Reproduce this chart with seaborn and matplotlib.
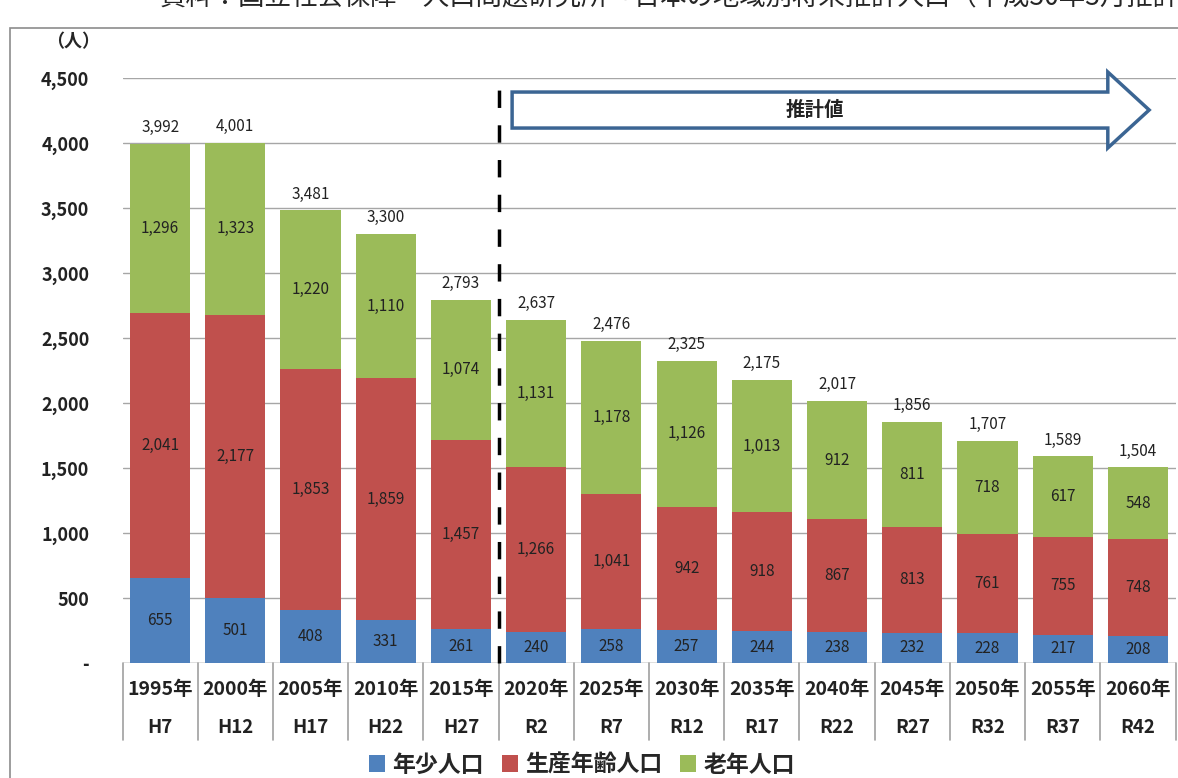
import numpy as np
import pandas as pd
import matplotlib.pyplot as plt
import seaborn as sns
from matplotlib.patches import Polygon, Rectangle

# --- data ---
years = ["1995年", "2000年", "2005年", "2010年", "2015年", "2020年", "2025年",
         "2030年", "2035年", "2040年", "2045年", "2050年", "2055年", "2060年"]
eras = ["H7", "H12", "H17", "H22", "H27", "R2", "R7",
        "R12", "R17", "R22", "R27", "R32", "R37", "R42"]
young = [655, 501, 408, 331, 261, 240, 258, 257, 244, 238, 232, 228, 217, 208]
working = [2041, 2177, 1853, 1859, 1457, 1266, 1041, 942, 918, 867, 813, 761, 755, 748]
elderly = [1296, 1323, 1220, 1110, 1074, 1131, 1178, 1126, 1013, 912, 811, 718, 617, 548]
totals = [3992, 4001, 3481, 3300, 2793, 2637, 2476, 2325, 2175, 2017, 1856, 1707, 1589, 1504]
series_names = ["年少人口", "生産年齢人口", "老年人口"]
colors = ["#4F81BD", "#C0504D", "#9BBB59"]

sns.set_theme(style="white")
plt.rcParams['font.family'] = ['Noto Sans CJK JP', 'DejaVu Sans']

df = pd.DataFrame({"year": years, "young": young, "working": working, "elderly": elderly})
df["lvl1"] = df["young"]
df["lvl2"] = df["young"] + df["working"]
df["lvl3"] = df["lvl2"] + df["elderly"]

fig = plt.figure(figsize=(11.78, 7.78), dpi=100)
ax = fig.add_axes([122.5 / 1178, 1 - 663 / 778, 1053 / 1178, 585 / 778])

# stacked bars: draw cumulative levels back to front
for col, c, name in zip(["lvl3", "lvl2", "lvl1"], colors[::-1], series_names[::-1]):
    sns.barplot(data=df, x="year", y=col, color=c, width=0.8, saturation=1,
                edgecolor="none", ax=ax, label=name, zorder=2)

ax.set_ylim(0, 4500)
ax.set_xlim(-0.5, len(years) - 0.5)
ax.set_yticks(np.arange(0, 4501, 500))
ax.set_yticklabels(["-"] + [f"{v:,}" for v in range(500, 4501, 500)],
                   fontsize=13, fontweight="bold", color="#222222")
ax.tick_params(axis="y", length=0, pad=24)
ax.yaxis.grid(True, color="#A6A6A6", lw=1, zorder=0)
ax.set_axisbelow(True)
ax.set_xlabel("")
ax.set_ylabel("")
for s in ax.spines.values():
    s.set_visible(False)
ax.axhline(0, color="#A6A6A6", lw=1, zorder=1)

# category labels as a two-row table below the axis
ax.set_xticks([])
trans = ax.get_xaxis_transform()
for i, (yr, er) in enumerate(zip(years, eras)):
    ax.text(i, -0.046, yr, transform=trans, ha="center", va="center",
            fontsize=14, fontweight="bold", color="#222222")
    ax.text(i, -0.111, er, transform=trans, ha="center", va="center",
            fontsize=13.5, fontweight="bold", color="#222222")
for b in np.arange(-0.5, len(years), 1.0):
    ax.plot([b, b], [0, -0.132], transform=trans, color="#A0A0A0", lw=1.2, clip_on=False)

# segment labels
for i in range(len(years)):
    ax.text(i, young[i] / 2, f"{young[i]:,}", ha="center", va="center", fontsize=11, color="#222222", zorder=3)
    ax.text(i, young[i] + working[i] / 2, f"{working[i]:,}", ha="center", va="center", fontsize=11, color="#222222", zorder=3)
    ax.text(i, young[i] + working[i] + elderly[i] / 2, f"{elderly[i]:,}", ha="center", va="center", fontsize=11, color="#222222", zorder=3)
    ax.text(i, df["lvl3"][i] + 60, f"{totals[i]:,}", ha="center", va="bottom", fontsize=11, color="#222222", zorder=3)

# projection divider and arrow
ax.plot([4.5, 4.5], [0, 4520], color="black", lw=2.5, dashes=(5, 5), clip_on=False, zorder=4)
arrow = Polygon([(4.68, 4115), (12.6, 4115), (12.6, 3962), (13.15, 4254),
                 (12.6, 4546), (12.6, 4392), (4.68, 4392)],
                closed=True, facecolor="white", edgecolor="#3B6593", lw=2.5,
                clip_on=False, zorder=4)
ax.add_patch(arrow)
ax.text(8.7, 4254, "推計値", ha="center", va="center", fontsize=14, fontweight="bold",
        color="#222222", zorder=5)

# legend
handles, labels = ax.get_legend_handles_labels()
order = [labels.index(n) for n in series_names]
ax.legend([handles[k] for k in order], series_names, loc="center", ncol=3,
          bbox_to_anchor=(582 / 1178, 1 - 765 / 778), bbox_transform=fig.transFigure,
          frameon=False, handlelength=0.7, handleheight=0.7, handletextpad=0.3,
          columnspacing=0.8, prop={"size": 16.5, "weight": "bold"})

# unit label, frame and clipped source note
fig.text(73 / 1178, 1 - 42 / 778, "（人）", ha="center", va="center", fontsize=13, fontweight="bold")
fig.patches.append(Rectangle((10 / 1178, -0.05), 1.1, 1 - 28 / 778 + 0.05,
                             transform=fig.transFigure, fill=False, edgecolor="#8C8C8C", lw=1.2))
fig.text(160 / 1178, 1.003, "資料：国立社会保障・人口問題研究所「日本の地域別将来推計人口（平成30年3月推計）」",
         ha="left", va="center", fontsize=19)

fig.savefig("out.png", dpi=100)
